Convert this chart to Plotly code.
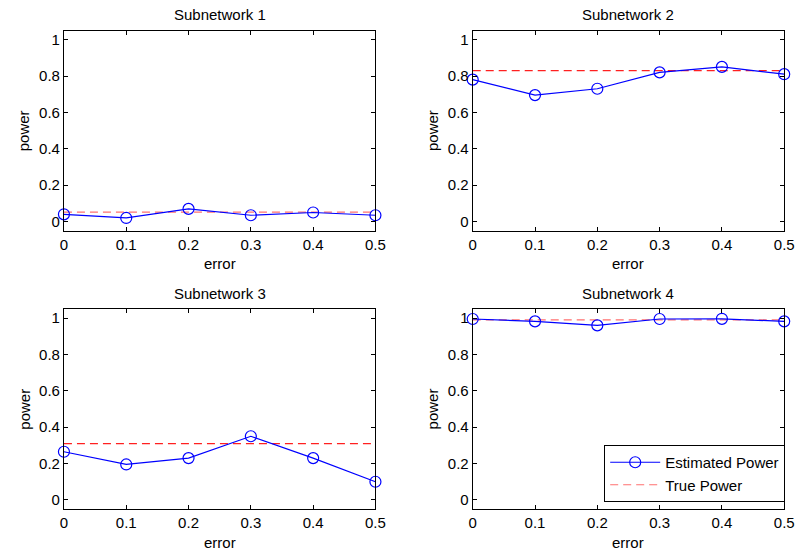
import plotly.graph_objects as go

error_levels = [0, 0.1, 0.2, 0.3, 0.4, 0.5]
titles = ["Subnetwork 1", "Subnetwork 2", "Subnetwork 3", "Subnetwork 4"]
estimated_power = [
    [0.04, 0.02, 0.07, 0.035, 0.05, 0.035],
    [0.78, 0.695, 0.73, 0.82, 0.85, 0.81],
    [0.265, 0.195, 0.23, 0.35, 0.23, 0.10],
    [0.995, 0.982, 0.96, 0.995, 0.996, 0.982],
]
true_power = [0.052, 0.83, 0.31, 0.99]
true_colors = ["#ff7070", "#ff2020", "#ff2020", "#ff7070"]
y_ticks = [0, 0.2, 0.4, 0.6, 0.8, 1]
x_ticks = [0, 0.1, 0.2, 0.3, 0.4, 0.5]

W, H = 806, 553
# plot area boxes in pixels: (left, right, top, bottom)
boxes = [(61, 378, 30.5, 230.7), (477, 794, 30.5, 230.7),
         (61, 378, 309, 509), (477, 794, 309, 509)]

FONT = "Liberation Sans, Arial, Helvetica, sans-serif"
FS = 15
fig = go.Figure()
layout = dict(
    width=W, height=H, margin=dict(l=0, r=0, t=0, b=0),
    paper_bgcolor="white", plot_bgcolor="white",
    font=dict(family=FONT, size=FS, color="black"),
    showlegend=True,
    legend=dict(x=795 / W, y=(H - 502) / H, xanchor="right", yanchor="bottom",
                bordercolor="black", borderwidth=1, bgcolor="white",
                font=dict(size=FS, color="black"), tracegroupgap=0,
                itemwidth=50),
)
annotations = []
for i in range(4):
    l, r, t, b = boxes[i]
    xa = "xaxis" if i == 0 else f"xaxis{i+1}"
    ya = "yaxis" if i == 0 else f"yaxis{i+1}"
    xref = "x" if i == 0 else f"x{i+1}"
    yref = "y" if i == 0 else f"y{i+1}"
    layout[xa] = dict(domain=[l / W, r / W], anchor=yref, range=[0, 0.5],
                      tickvals=x_ticks, ticktext=[f"{v:g}" for v in x_ticks],
                      ticks="inside", ticklen=4, tickcolor="black",
                      showline=True, linecolor="black", linewidth=1, mirror="ticks",
                      showgrid=False, zeroline=False, tickfont=dict(size=FS))
    layout[ya] = dict(domain=[(H - b) / H, (H - t) / H], anchor=xref, range=[-0.05, 1.05],
                      tickvals=y_ticks, ticktext=[f"{v:g}" for v in y_ticks],
                      ticks="inside", ticklen=4, tickcolor="black",
                      showline=True, linecolor="black", linewidth=1, mirror="ticks",
                      showgrid=False, zeroline=False, tickfont=dict(size=FS))
    fig.add_trace(go.Scatter(
        x=error_levels, y=[true_power[i]] * len(error_levels), mode="lines",
        line=dict(color=true_colors[i], width=1.2, dash="8px,5px"),
        xaxis=xref, yaxis=yref, name="True Power", showlegend=False,
        cliponaxis=False, hoverinfo="skip"))
    fig.add_trace(go.Scatter(
        x=error_levels, y=estimated_power[i], mode="lines+markers",
        line=dict(color="#0000ff", width=1.2),
        marker=dict(symbol="circle-open", size=11, color="#0000ff", line=dict(width=1.2)),
        xaxis=xref, yaxis=yref, name="Estimated Power", showlegend=False,
        cliponaxis=False))
    cx = (l + r) / 2
    annotations.append(dict(text=titles[i], x=cx / W, y=1 - (t - 16) / H, xref="paper", yref="paper",
                            showarrow=False, xanchor="center", yanchor="middle",
                            font=dict(size=FS)))
    annotations.append(dict(text="error", x=cx / W, y=1 - (b + 33) / H, xref="paper", yref="paper",
                            showarrow=False, xanchor="center", yanchor="middle",
                            font=dict(size=FS)))
    annotations.append(dict(text="power", x=(l - 41) / W, y=1 - ((t + b) / 2) / H, xref="paper",
                            yref="paper", showarrow=False, xanchor="center", yanchor="middle",
                            textangle=-90, font=dict(size=FS)))

# legend entries (drawn in subplot 4)
fig.add_trace(go.Scatter(
    x=[None], y=[None], mode="lines+markers", name="Estimated Power",
    line=dict(color="#0000ff", width=1.2),
    marker=dict(symbol="circle-open", size=11, color="#0000ff", line=dict(width=1.2)),
    xaxis="x4", yaxis="y4"))
fig.add_trace(go.Scatter(
    x=[None], y=[None], mode="lines", name="True Power",
    line=dict(color="#ff7070", width=1.2, dash="8px,5px"),
    xaxis="x4", yaxis="y4"))

layout["annotations"] = annotations
fig.update_layout(**layout)
fig.write_html("out.html")
